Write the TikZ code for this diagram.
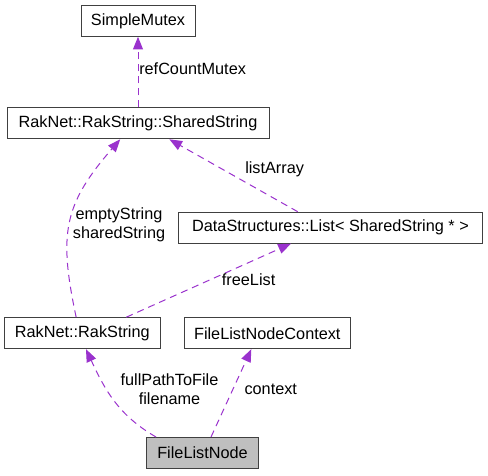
\documentclass[tikz,border=0pt]{standalone}
\usepackage{fontspec}
\setmainfont{Liberation Sans}
\usetikzlibrary{arrows.meta,positioning}
\definecolor{edgepurple}{RGB}{154,50,205}
\definecolor{boxgray}{RGB}{64,64,64}
\definecolor{nodefill}{RGB}{191,191,191}
\tikzstyle{collab graph}=[
    x=0.75pt, y=-0.75pt,
    font=\fontsize{12.2}{14.25}\selectfont,
    every node/.style={inner sep=0pt},
]
\tikzstyle{class box}=[draw=boxgray, line width=0.75pt, fill=white, minimum height=23.25pt]
\tikzstyle{member edge}=[edgepurple, line width=0.75pt, dash pattern=on 5.25pt off 3.75pt,
    -{Triangle[length=9.5pt,width=7.5pt]}]
\tikzstyle{member label}=[align=center, text=black]

\begin{document}
\begin{tikzpicture}[collab graph]
        \useasboundingbox (0,0) rectangle (488,475);
        \node[class box, minimum width=85.5pt] (mutex) at (138,20.8) {SimpleMutex};
        \node[class box, minimum width=196.5pt, below=52.9pt of mutex] (shared) {RakNet::RakString::SharedString};
        \node[class box, minimum width=228.3pt] (list) at (330.5,227.7) {DataStructures::List< SharedString * >};
        \node[class box, minimum width=117pt] (rakstr) at (82.3,333.2) {RakNet::RakString};
        \node[class box, minimum width=124.5pt, right=17.25pt of rakstr] (ctx) {FileListNodeContext};
        \node[class box, minimum width=83.7pt, fill=nodefill] (fln) at (202.5,453) {FileListNode};

        \path[member edge]
            (shared) edge[] (mutex)
            (rakstr.111) edge[out=102, in=229, looseness=1.2] (shared.222)
            (list.154) edge[] (shared.333)
            (rakstr.20) edge[] (list.202)
            (fln.161) edge[out=150, in=295] (rakstr.283)
            (fln.62) edge[] (ctx.225)
        ;

        \node[member label, anchor=west] (l-mutex) at (139,69) {refCountMutex};
        \node[member label] (l-shared) at (119,224.5) {emptyString\\sharedString};
        \node[member label, anchor=west] (l-list) at (245,169.3) {listArray};
        \node[member label, anchor=west] (l-free) at (221.7,279.3) {freeList};
        \node[member label] (l-file) at (169.5,389.3) {fullPathToFile\\filename};
        \node[member label, anchor=west] (l-ctx) at (244.3,389.3) {context};
    \end{tikzpicture}
\end{document}
